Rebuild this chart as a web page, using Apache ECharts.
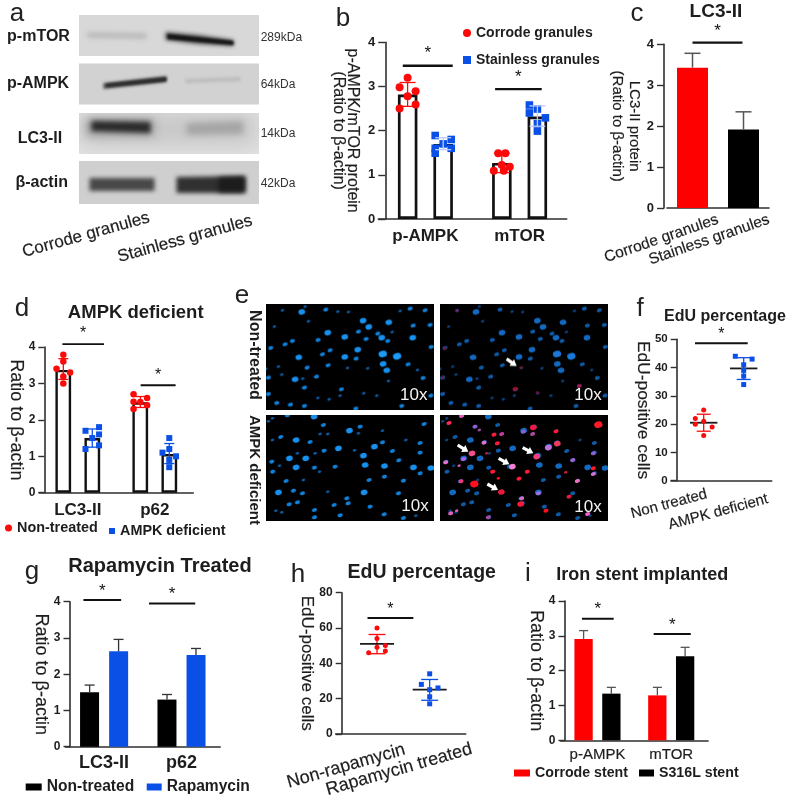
<!DOCTYPE html>
<html><head><meta charset="utf-8">
<style>html,body{margin:0;padding:0;background:#fff}#main{width:789px;height:800px;filter:blur(0.35px)}</style>
<script src="https://cdn.jsdelivr.net/npm/echarts@6/dist/echarts.min.js"></script>
</head><body><div id="main"></div>
<script>
// ---------- data ----------
const bCategories=['p-AMPK','mTOR'];
const bCorrodeMean=[2.82,1.27], bCorrodeLow=[2.55,1.05], bCorrodeHigh=[3.09,1.49];
const bStainlessMean=[1.7,2.32], bStainlessLow=[1.57,2.1], bStainlessHigh=[1.84,2.56];
const bCorrodeAmpk=[3.2,2.98,2.89,2.78,2.59,2.5], bCorrodeAmpkSlots=[0,-1,1,0,1,-1];
const bStainlessAmpk=[1.89,1.8,1.7,1.6,1.6,1.49], bStainlessAmpkSlots=[-1,1,0,-1,1,-1];
const bCorrodeMtor=[1.49,1.49,1.22,1.18,1.09,1.09], bCorrodeMtorSlots=[-.45,.45,0,1,-1,.25];
const bStainlessMtor=[2.58,2.49,2.4,2.29,2.16,1.99], bStainlessMtorSlots=[-1,0,-1,1,0,0];

const cCategories=['Corrode granules','Stainless granules'];
const cMean=[3.43,1.92], cHigh=[3.78,2.35];

const dCategories=['LC3-II','p62'];
const dNonMean=[3.37,2.48], dNonLow=[3.11,2.34], dNonHigh=[3.68,2.64];
const dAmpkMean=[1.5,1.06], dAmpkLow=[1.25,0.8], dAmpkHigh=[1.75,1.35];
const dNonLc3=[3.79,3.6,3.4,3.3,3.19,3.0], dNonLc3Slots=[0,0,-1,1,0,0];
const dAmpkLc3=[1.8,1.7,1.6,1.5,1.3,1.2], dAmpkLc3Slots=[1,-1,1,0,1,-1];
const dNonP62=[2.7,2.6,2.5,2.49,2.4,2.3], dNonP62Slots=[-1,1,-1,0,1,-1];
const dAmpkP62=[1.5,1.2,1.1,1.0,0.9,0.7], dAmpkP62Slots=[0,0,-1,1,0,0];

const fCategories=['Non treated','AMPK deficient'];
const fNonValues=[25,22,21,20,19,16], fNonSlots=[0,-1,0,-1,1,0];
const fAmpkValues=[44,43,41,39,37,34], fAmpkSlots=[-1,1,0,0,0,0];
const fMean=[20.5,39.7], fLow=[17.5,35.8], fHigh=[23.5,43.5];

const gCategories=['LC3-II','p62'];
const gNonMean=[1.5,1.3], gNonHigh=[1.7,1.44];
const gRapaMean=[2.63,2.53], gRapaHigh=[2.96,2.71];

const hCategories=['Non-rapamycin','Rapamycin treated'];
const hNonValues=[60,54,50,49,47,46], hNonSlots=[0,0,1,0,1,-1];
const hRapaValues=[34,28,26,25,21,17], hRapaSlots=[0,-1,1,0,0,0];
const hMean=[51,25], hLow=[45.4,19], hHigh=[56.3,30.8];

const iCategories=['p-AMPK','mTOR'];
const iCorrodeMean=[2.91,1.29], iCorrodeHigh=[3.15,1.52];
const iS316Mean=[1.34,2.41], iS316High=[1.52,2.67];

const blotLabels=['p-mTOR','p-AMPK','LC3-II','β-actin'];
const blotSizes=['289kDa','64kDa','14kDa','42kDa'];
const blotLanes=['Corrode granules','Stainless granules'];
const fieldRows=['Non-treated','AMPK deficient'];

// ---------- drawing helpers ----------
const FONT='"Liberation Sans"', RED='#fb0a0a', BLUE='#0b50e6', INK='#1d1d1d', AXIS='#2f2f2f';
const SOFT={textBorderColor:INK,textBorderWidth:0.18};
const option={animation:false,backgroundColor:'#fff',textStyle:{fontFamily:FONT},
  grid:[],xAxis:[],yAxis:[],series:[],legend:[],graphic:{elements:[]}};
const G=option.graphic.elements;

function text(str,x,y,size,opt={}){
  G.push({type:'text',x,y,rotation:(opt.rot||0)*Math.PI/180,z:20,silent:true,
    style:{text:str,fill:opt.fill||INK,font:`${opt.weight||'normal'} ${size}px ${FONT}`,
      textAlign:opt.align||'center',textVerticalAlign:'middle',
      stroke:opt.soft?(opt.fill||INK):null,lineWidth:opt.soft?0.18:0}});
}
function panel(p){
  const gi=option.grid.length, xi=option.xAxis.length, yi=option.yAxis.length, tl=p.tickLen||6;
  option.grid.push({left:p.left,top:p.top,width:p.right-p.left,height:p.bottom-p.top});
  option.xAxis.push({gridIndex:gi,type:'category',data:p.cats,
    axisLine:{onZero:false,lineStyle:{color:AXIS,width:p.lw||1.6}},axisTick:{show:false},
    axisLabel:Object.assign({interval:0,hideOverlap:false,color:INK,fontFamily:FONT,fontSize:p.catSize,fontWeight:p.catWeight||'bold',margin:p.catMargin||8},
      p.catWeight==='normal'?SOFT:{},p.catLabel||{})});
  option.xAxis.push({gridIndex:gi,type:'value',show:false,min:p.xMin===undefined?-.5:p.xMin,max:p.xMax===undefined?1.5:p.xMax});
  option.yAxis.push({gridIndex:gi,type:'value',min:0,max:p.yMax,interval:p.yStep,offset:p.yOffset||0,
    name:p.yName,nameLocation:'middle',nameRotate:-90,nameGap:p.nameGap,
    nameTextStyle:Object.assign({color:INK,fontFamily:FONT,fontSize:p.nameSize,lineHeight:p.nameLine||undefined},SOFT),
    axisLine:{show:true,onZero:false,lineStyle:{color:AXIS,width:p.lw||1.6}},
    axisTick:{show:true,length:tl,lineStyle:{color:AXIS,width:1.4}},
    axisLabel:{color:INK,fontFamily:FONT,fontSize:p.tickSize||12,fontWeight:'bold',margin:tl+3},splitLine:{show:false}});
  return {x:xi,sx:xi+1,y:yi};
}
function bars(ax,name,values,style,width,gap){
  option.series.push({type:'bar',name,xAxisIndex:ax.x,yAxisIndex:ax.y,data:values,barWidth:width,barGap:gap,z:2,
    itemStyle:style});
}
function dots(ax,name,points,symbol,size,color){
  option.series.push({type:'scatter',name,xAxisIndex:ax.sx,yAxisIndex:ax.y,data:points,symbol,symbolSize:size,z:4,
    itemStyle:{color,opacity:1}});
}
function placed(group,side,spread,slots,values){return values.map((v,k)=>[group+side+slots[k]*spread,v]);}
function errors(ax,rows,s){
  option.series.push({type:'custom',xAxisIndex:ax.sx,yAxisIndex:ax.y,data:rows,z:s.z||3,silent:true,
    encode:{x:0,y:[1,2,3]},
    renderItem(params,api){
      const x=api.value(0),m=api.coord([x,api.value(1)]),lo=api.coord([x,api.value(2)]),hi=api.coord([x,api.value(3)]);
      const seg=(a,b,c,d,col,w)=>({type:'line',shape:{x1:a,y1:b,x2:c,y2:d},style:{stroke:col,lineWidth:w}});
      const kids=[seg(m[0],hi[1],m[0],lo[1],s.color,s.w),seg(m[0]-s.cap,hi[1],m[0]+s.cap,hi[1],s.color,s.w)];
      if(s.lower)kids.push(seg(m[0]-s.cap,lo[1],m[0]+s.cap,lo[1],s.color,s.w));
      if(s.mean)kids.push(seg(m[0]-s.mean,m[1],m[0]+s.mean,m[1],'#1a1a1a',s.meanW||1.8));
      return {type:'group',children:kids};
    }});
}
function signif(ax,rows,w,starSize,starLift){
  option.series.push({type:'custom',xAxisIndex:ax.sx,yAxisIndex:ax.y,data:rows,z:5,silent:true,
    encode:{x:[0,1],y:2},
    renderItem(params,api){
      const a=api.coord([api.value(0),api.value(2)]),b=api.coord([api.value(1),api.value(2)]);
      return {type:'group',children:[
        {type:'line',shape:{x1:a[0],y1:a[1],x2:b[0],y2:a[1]},style:{stroke:'#111',lineWidth:w}},
        {type:'text',style:{text:'*',x:(a[0]+b[0])/2,y:a[1]-starLift,textAlign:'center',textVerticalAlign:'middle',
          font:`normal ${starSize}px ${FONT}`,fill:'#111'}}]};
    }});
}
function legendItem(name,icon,color,left,top,iw,ih,size,weight){
  option.legend.push({selectedMode:false,left,top,itemWidth:iw,itemHeight:ih,padding:0,
    textStyle:{color:INK,fontFamily:FONT,fontSize:size,fontWeight:weight||'bold'},
    data:[{name,icon,itemStyle:{color,borderWidth:0}}]});
}
const zip=(xs,...cols)=>xs.map((x,k)=>[x,...cols.map(c=>c[k])]);

// ---------- panel b ----------
{
  const ax=panel({left:378.3,right:566.7,top:42.3,bottom:219,yOffset:-7,tickLen:7,cats:bCategories,catSize:17,catMargin:9,yMax:4,yStep:1,
    yName:'p-AMPK/mTOR protein\n(Ratio to β-actin)',nameGap:26,nameSize:16,nameLine:14,tickSize:13});
  const outline={color:'#fff',borderColor:'#111',borderWidth:2.7};
  bars(ax,'Corrode granules mean',bCorrodeMean,outline,19.5,'82%');
  bars(ax,'Stainless granules mean',bStainlessMean,outline,19.5,'82%');
  const off=.189, sp=.085;
  errors(ax,zip([0-off,1-off],bCorrodeMean,bCorrodeLow,bCorrodeHigh),{color:RED,w:1.3,cap:8,lower:true});
  errors(ax,zip([0+off,1+off],bStainlessMean,bStainlessLow,bStainlessHigh),{color:'#b9ccff',w:1.3,cap:8,lower:true,z:5});
  dots(ax,'Corrode granules',[...placed(0,-off,sp,bCorrodeAmpkSlots,bCorrodeAmpk),...placed(1,-off,sp,bCorrodeMtorSlots,bCorrodeMtor)],'circle',8,RED);
  dots(ax,'Stainless granules',[...placed(0,off,sp,bStainlessAmpkSlots,bStainlessAmpk),...placed(1,off,sp,bStainlessMtorSlots,bStainlessMtor)],'rect',7.6,BLUE);
  signif(ax,[[-.24,.29,3.47],[.74,1.235,2.94]],2.4,17,12);
  legendItem('Corrode granules','circle',RED,463,26,8,8,14);
  legendItem('Stainless granules','rect',BLUE,463,53,8,8,14);
}
// ---------- panel c ----------
{
  const ax=panel({left:667,right:769,top:44.3,bottom:208,yOffset:3,tickLen:7,cats:cCategories,catSize:15.5,catWeight:'normal',yMax:4,yStep:1,
    catLabel:{rotate:19,margin:20,padding:[0,-27,0,0]},
    yName:'LC3-II protein\n(Ratio to β-actin)',nameGap:20,nameSize:15,nameLine:17,tickSize:13});
  option.series.push({type:'bar',name:'LC3-II',xAxisIndex:ax.x,yAxisIndex:ax.y,barWidth:31,z:2,
    data:[{value:cMean[0],itemStyle:{color:'#ff0000'}},{value:cMean[1],itemStyle:{color:'#000'}}]});
  errors(ax,zip([0,1],cMean,cMean,cHigh),{color:'#555',w:1.5,cap:8});
  signif(ax,[[0,.98,4.04]],2.4,17,11);
  text('LC3-II',716,12,19,{weight:'bold'});
}
// ---------- panel d ----------
{
  const ax=panel({left:39.3,right:193.3,top:347,bottom:492.7,yOffset:-5,cats:dCategories,catSize:17,catMargin:9,yMax:4,yStep:1,
    yName:'Ratio to β-actin',nameGap:15,nameSize:18,tickSize:12});
  const outline={color:'#fff',borderColor:'#111',borderWidth:2.4};
  bars(ax,'Non-treated mean',dNonMean,outline,15.7,'85%');
  bars(ax,'AMPK deficient mean',dAmpkMean,outline,15.7,'85%');
  const off=.188, sp=.088;
  errors(ax,zip([0-off,1-off],dNonMean,dNonLow,dNonHigh),{color:RED,w:1.3,cap:5,lower:true});
  errors(ax,zip([0+off,1+off],dAmpkMean,dAmpkLow,dAmpkHigh),{color:BLUE,w:1.3,cap:5,lower:true});
  dots(ax,'Non-treated',[...placed(0,-off,sp,dNonLc3Slots,dNonLc3),...placed(1,-off,sp,dNonP62Slots,dNonP62)],'circle',6.5,RED);
  dots(ax,'AMPK deficient',[...placed(0,off,sp,dAmpkLc3Slots,dAmpkLc3),...placed(1,off,sp,dAmpkP62Slots,dAmpkP62)],'rect',6,BLUE);
  signif(ax,[[-.2,.34,4.08],[.816,1.27,2.95]],1.8,16,10);
  text('AMPK deficient',135.7,313,18.5,{weight:'bold'});
  legendItem('Non-treated','circle',RED,5,521,7,7,14.4);
  legendItem('AMPK deficient','rect',BLUE,109,524,6,6,14.4);
}
// ---------- panel f ----------
{
  const ax=panel({left:671,right:771.7,top:339.3,bottom:480.7,yOffset:-5.7,xMin:-.8175,xMax:1.7,cats:[
      {value:fCategories[0],textStyle:{padding:[0,-11,0,0]}},{value:fCategories[1],textStyle:{padding:[0,-20,0,0],verticalAlign:'top'}}],
    catSize:15,catWeight:'normal',catLabel:{rotate:15,margin:16},yMax:50,yStep:10,
    yName:'EdU-positive cells',nameGap:21,nameSize:17.4,tickSize:11.5});
  errors(ax,zip([0,1],fMean,fLow,fHigh).slice(0,1),{color:RED,w:1.3,cap:7,lower:true,mean:13.7,z:3});
  errors(ax,zip([0,1],fMean,fLow,fHigh).slice(1),{color:BLUE,w:1.3,cap:7,lower:true,mean:13.7,z:3});
  dots(ax,'Non treated',placed(0,0,.21,fNonSlots,fNonValues),'circle',5,RED);
  dots(ax,'AMPK deficient points',placed(1,0,.21,fAmpkSlots,fAmpkValues),'rect',5,BLUE);
  signif(ax,[[-.217,1.1,48.6]],2.2,16,9);
  text('EdU percentage',725,316.7,16,{weight:'bold'});
}
// ---------- panel g ----------
{
  const ax=panel({left:65.4,right:220.2,top:601.7,bottom:746.7,yOffset:-4.6,tickLen:6.5,cats:gCategories,catSize:18,catMargin:7,yMax:4,yStep:1,
    yName:'Ratio to β-actin',nameGap:18,nameSize:18,tickSize:12});
  bars(ax,'Non-treated bars',gNonMean,{color:'#000'},19,'53%');
  bars(ax,'Rapamycin',gRapaMean,{color:BLUE},19,'53%');
  const off=.187;
  errors(ax,zip([0-off,1-off],gNonMean,gNonMean,gNonHigh),{color:'#333',w:1.3,cap:5});
  errors(ax,zip([0+off,1+off],gRapaMean,gRapaMean,gRapaHigh),{color:'#333',w:1.3,cap:5});
  signif(ax,[[-.267,.22,4.05],[.58,1.177,3.95]],2,17,9);
  text('Rapamycin Treated',160,566.7,20,{weight:'bold'});
  legendItem('Non-treated bars','rect','#000',25.7,779,16,7,15.6);
  option.legend[option.legend.length-1].formatter=()=>'Non-treated';
  legendItem('Rapamycin','rect',BLUE,146.7,779,15,7,15.6);
}
// ---------- panel h ----------
{
  const ax=panel({left:335.7,right:465.7,top:592.7,bottom:735.3,yOffset:-6,xMin:-.784,xMax:1.684,cats:[
      {value:hCategories[0],textStyle:{padding:[0,-38,0,0]}},{value:hCategories[1],textStyle:{padding:[0,-40,0,0]}}],
    catSize:18,catWeight:'normal',catLabel:{rotate:16,margin:26},yMax:80,yStep:20,
    yName:'EdU-positive cells',nameGap:23,nameSize:17,tickSize:12});
  errors(ax,zip([0,1],hMean,hLow,hHigh).slice(0,1),{color:RED,w:1.3,cap:8.5,lower:true,mean:17});
  errors(ax,zip([0,1],hMean,hLow,hHigh).slice(1),{color:BLUE,w:1.3,cap:8.5,lower:true,mean:17});
  dots(ax,'Non-rapamycin',placed(0,0,.158,hNonSlots,hNonValues),'circle',5,RED);
  dots(ax,'Rapamycin treated',placed(1,0,.158,hRapaSlots,hRapaValues),'rect',5,BLUE);
  signif(ax,[[-.18,.69,65.6]],2,16,9);
  text('EdU percentage',421.7,573,19.5,{weight:'bold'});
}
// ---------- panel i ----------
{
  const ax=panel({left:560.6,right:708.1,top:601,bottom:740.3,yOffset:-4.4,tickLen:6.5,cats:iCategories,catSize:15,catWeight:'normal',catMargin:7,yMax:4,yStep:1,
    yName:'Ratio to β-actin',nameGap:19,nameSize:18,tickSize:12});
  bars(ax,'Corrode stent',iCorrodeMean,{color:'#ff0000'},18.3,'52%');
  bars(ax,'S316L stent',iS316Mean,{color:'#000'},18.3,'52%');
  const off=.188;
  errors(ax,zip([0-off,1-off],iCorrodeMean,iCorrodeMean,iCorrodeHigh),{color:'#555',w:1.3,cap:4.5});
  errors(ax,zip([0+off,1+off],iS316Mean,iS316Mean,iS316High),{color:'#555',w:1.3,cap:4.5});
  signif(ax,[[-.21,.22,3.49],[.762,1.265,3.05]],2,17,9);
  text('Iron stent implanted',642.3,575,18,{weight:'bold'});
  legendItem('Corrode stent','rect','#ff0000',514,766,16,7,14.2);
  legendItem('S316L stent','rect','#000',639,766,15,7,14.2);
}

// ---------- panel letters ----------
[['a',17,14],['b',343,19],['c',637,14],['d',22,309],['e',242,296],['f',640,309],['g',32,572],['h',298,575],['i',528,574]]
  .forEach(l=>text(l[0],l[1],l[2],26,{fill:'#222'}));

// ---------- panel a: blot strips ----------
function blotCanvas(){
  const c=document.createElement('canvas');c.width=180;c.height=190;const x=c.getContext('2d');
  const strips=[[0,0,180,41,'#d8d8d8'],[0,48.5,180,41,'#d2d2d2'],[0,98,180,41,'#e4e4e4'],[0,146,180,43,'#cfcfcf']];
  strips.forEach(s=>{x.fillStyle=s[4];x.fillRect(s[0],s[1],s[2],s[3]);});
  const band=(pts,col,blur)=>{x.save();
    x.beginPath();x.rect(0,strips[band.i][1],180,strips[band.i][3]);x.clip();
    x.filter=`blur(${blur}px)`;x.fillStyle=col;x.beginPath();
    pts.forEach((p,k)=>k?x.lineTo(p[0],p[1]):x.moveTo(p[0],p[1]));x.closePath();x.fill();x.restore();};
  band.i=0;
  band([[9,17],[68,18],[68,24],[9,23]],'#bcbcbc',2);
  band([[87,17],[120,20],[155,25],[155,31],[120,29],[87,25]],'#4a4a4a',2);
  band([[89,19],[155,26],[155,30],[89,24]],'#151515',1.2);
  band.i=1;
  band([[25,68],[88,61],[88,67],[25,74]],'#4a4a4a',1.6);
  band([[28,69],[88,62.5],[88,66],[28,72]],'#2a2a2a',1);
  band([[107,64],[162,62],[162,66],[107,68]],'#bcbcbc',1.6);
  band.i=2;
  band([[0,98],[180,98],[180,130],[0,130]],'#c4c4c4',12);
  band([[8,104],[75,104],[75,121],[8,121]],'#9a9a9a',5);
  band([[13,106],[72,107],[72,118],[13,116]],'#2a2a2a',2.4);
  band([[108,108],[165,106],[165,119],[108,120]],'#a5a5a5',3);
  band.i=3;
  band([[11,163],[76,163],[76,176],[11,176]],'#484848',2.2);
  band([[98,162],[167,161],[167,178],[98,178]],'#303030',2.2);
  band([[140,163],[166,162],[166,177],[140,177]],'#1c1c1c',2.4);
  return c;
}
G.push({type:'image',x:78.5,y:15,z:1,silent:true,style:{image:blotCanvas(),width:180,height:190}});
const blotY=[37,83.5,139,183], blotX=[38.5,38,40,41.7];
blotLabels.forEach((t,k)=>text(t,blotX[k],blotY[k],16,{weight:'bold'}));
const kdaY=[37.3,85,134,184];
blotSizes.forEach((t,k)=>text(t,260.7,kdaY[k],12,{align:'left',fill:'#333'}));
text(blotLanes[0],86,235,17,{rot:15.5,soft:true});
text(blotLanes[1],185,239,17,{rot:15.5,soft:true});

// ---------- panel e: microscope fields ----------
const nucleiTop=[[67,91,1],[125,96,3],[135,80,1],[197,89,2],[233,95,1],[265,96,1],[145,124,1],[43,140,1],[309,122,3],[326,141,3],[386,127,3],[459,137,2],[420,93,1],[450,86,2],[495,91,2],[510,135,2],[203,158,3],[295,155,2],[254,171,3],[174,180,2],[97,183,2],[75,193,2],[32,204,2],[318,177,2],[353,161,2],[396,156,1],[365,173,3],[383,183,2],[458,173,3],[513,201,2],[293,209,3],[210,211,2],[187,223,2],[116,232,3],[254,231,3],[288,236,2],[368,222,4],[411,229,4],[369,252,3],[444,253,2],[204,256,2],[141,263,2],[55,260,1],[262,264,1],[323,265,1],[380,271,3],[17,267,1],[472,270,1],[25,293,2],[65,284,1],[105,298,3],[128,296,1],[169,290,2],[385,303,1],[489,294,2],[133,323,2],[244,328,2],[240,347,1],[311,340,1],[173,354,1],[207,358,1],[25,342,2],[50,369,2],[91,374,2],[133,378,2],[287,386,2],[425,378,2],[350,347,1],[512,347,2]];
const nucleiBottom=[[82,406,2],[162,410,3],[25,424,1],[190,435,2],[268,452,3],[300,440,2],[203,462,1],[180,462,1],[295,460,1],[367,452,1],[492,432,2],[108,480,3],[150,486,2],[62,471,2],[37,480,1],[235,505,3],[192,512,2],[165,520,1],[112,520,1],[88,535,3],[137,535,3],[283,511,1],[310,527,3],[343,500,3],[367,487,2],[397,513,2],[437,480,1],[480,489,2],[480,518,2],[416,541,2],[35,545,2],[58,557,1],[108,562,3],[178,575,1],[163,563,2],[225,560,2],[315,555,3],[373,558,3],[460,562,3],[512,564,3],[38,575,2],[480,580,2],[430,602,2],[373,590,2],[327,600,2],[78,603,2],[130,600,1],[55,637,3],[100,632,2],[127,640,2],[203,635,1],[260,655,2],[264,670,2],[312,637,3],[222,675,2],[163,690,2],[330,680,2],[112,667,2],[87,673,2],[47,692,1],[65,697,1],[163,712,2],[240,706,2],[372,703,2],[430,714,2],[467,707,1],[415,640,2],[37,415,1]];
const redTop=[[783,263,1,'#7a1238'],[765,327,2,'#a01238'],[832,338,1,'#70104a'],[958,318,2,'#a0205a'],[592,92,1,'#70307a'],[555,205,1,'#7a1238'],[548,292,1,'#7a1238']];
const redBottom=[[1015,434,4,'#ff1a2a'],[820,442,3,'#f01a4a'],[888,454,2,'#ff1a3a'],[702,464,2,'#ff1a3a'],[725,462,2,'#c03aa0'],[818,462,2,'#a84a9a'],[790,455,2,'#8a60d0'],[645,440,2,'#8a60d0'],[658,450,1,'#a04aa0'],[567,429,2,'#ff2a5a'],[605,408,2,'#e060c0'],[672,488,2,'#e070d0'],[712,490,2,'#ff1a3a'],[636,520,3,'#f0508a'],[830,530,3,'#f0407a'],[892,491,3,'#f03a5a'],[865,503,3,'#c070e0'],[938,540,2,'#a060d0'],[1000,565,2,'#ff1a2a'],[1000,582,2,'#d070d0'],[757,560,3,'#f080d0'],[698,575,2,'#ff1a3a'],[802,575,2,'#ff1a3a'],[777,596,2,'#ff1a3a'],[917,577,1,'#d01a3a'],[603,604,2,'#f03a7a'],[643,612,4,'#ff1020'],[715,595,1,'#ff1020'],[724,636,3,'#e81a3a'],[785,655,2,'#d070c0'],[782,672,3,'#ff1a3a'],[835,640,2,'#a070e0'],[927,650,2,'#e81a3a'],[858,692,2,'#ff1020'],[952,603,2,'#f070c0'],[572,700,2,'#e060c0'],[590,692,1,'#e060c0'],[685,712,2,'#a04a9a'],[983,702,2,'#f060d0'],[557,547,2,'#e070d0'],[610,537,2,'#b060e0'],[597,557,1,'#d050b0'],[1000,520,2,'#8a60d0'],[680,520,1,'#b01a3a']];
const arrowTop=[[740,237,770,258]];
const arrowBottom=[[593,495,625,515],[716,535,748,553],[788,503,820,520],[682,612,714,630]];
const RX=[0,1.8,2.6,3.4,4.2], RY=[0,1.3,1.9,2.7,3.3];
function fieldCanvas(list,ox,oy,shades,extras,arrows){
  const c=document.createElement('canvas');c.width=168;c.height=106;const x=c.getContext('2d');
  x.fillStyle='#000';x.fillRect(0,0,168,106);
  x.filter='blur(0.7px)';
  const spot=(px,py,s,col)=>{x.fillStyle=col;x.beginPath();x.ellipse(px/3,py/3,RX[s],RY[s],-.25,0,7);x.fill();};
  list.forEach(n=>spot(n[0]-ox,n[1]-oy,n[2],shades[n[2]]));
  (extras||[]).forEach(n=>spot(n[0]-ox-523,n[1]-oy,n[2],n[3]));
  x.filter='none';
  (arrows||[]).forEach(a=>{
    const X1=(a[0]-ox-523)/3,Y1=(a[1]-oy)/3,X2=(a[2]-ox-523)/3,Y2=(a[3]-oy)/3,an=Math.atan2(Y2-Y1,X2-X1);
    x.strokeStyle='#fff';x.fillStyle='#fff';x.lineWidth=3.2;x.beginPath();x.moveTo(X1,Y1);
    x.lineTo(X2-4*Math.cos(an),Y2-4*Math.sin(an));x.stroke();x.beginPath();
    x.moveTo(X2,Y2);x.lineTo(X2-6*Math.cos(an)+4*Math.sin(an),Y2-6*Math.sin(an)-4*Math.cos(an));
    x.lineTo(X2-6*Math.cos(an)-4*Math.sin(an),Y2-6*Math.sin(an)+4*Math.cos(an));x.closePath();x.fill();});
  return c;
}
const brightShades=[0,'#0d5ea6','#1180d8','#1890ee','#1c9cf8'], dimShades=[0,'#0a3f7a','#0f5aa6','#1368c0','#1a78d8'];
const fields=[[265.7,304.3,fieldCanvas(nucleiTop,17,73,brightShades)],
  [440,304.3,fieldCanvas(nucleiTop,17,73,dimShades,redTop,arrowTop)],
  [265.7,415,fieldCanvas(nucleiBottom,17,405,brightShades)],
  [440,415,fieldCanvas(nucleiBottom,17,405,dimShades,redBottom,arrowBottom)]];
fields.forEach(f=>G.push({type:'image',x:f[0],y:f[1],z:1,silent:true,style:{image:f[2],width:168,height:106}}));
[[413.7,395],[588,395],[415,506],[588,507]].forEach(p=>text('10x',p[0],p[1],17,{fill:'#f4f4f4',z:21}));
text(fieldRows[0],254,355,16,{rot:-90,weight:'bold'});
text(fieldRows[1],254,470,15,{rot:-90,weight:'bold'});

echarts.init(document.getElementById('main'),null,{renderer:'canvas'}).setOption(option);
</script></body></html>
